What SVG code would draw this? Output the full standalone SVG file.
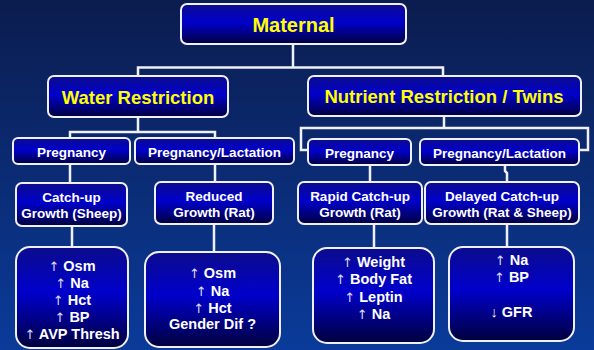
<svg xmlns="http://www.w3.org/2000/svg" width="594" height="350" viewBox="0 0 594 350">
<defs>
<linearGradient id="bg" x1="0" y1="0" x2="0" y2="1">
<stop offset="0" stop-color="#0b1c4e"/>
<stop offset="1" stop-color="#0a3b9a"/>
</linearGradient>
<linearGradient id="bx" x1="0" y1="0" x2="0" y2="1">
<stop offset="0" stop-color="#0c0c8c"/>
<stop offset="0.45" stop-color="#0000cc"/>
<stop offset="1" stop-color="#00003e"/>
</linearGradient>
<style>
.b{fill:url(#bx);stroke:#f0f0f8;stroke-width:2}
.c{fill:none;stroke:#f0f0f8;stroke-width:2.5}
text{font-family:"Liberation Sans",Arial,sans-serif;font-weight:bold;text-anchor:middle;fill:#ffffff}
.y{fill:#ffff00}
.t1{font-size:20px}
.t2{font-size:18.5px}
.t3{font-size:13.5px}
.t4{font-size:14.5px}
.a{font-family:"DejaVu Sans",sans-serif;font-weight:normal;fill:#dcdcff;font-size:13px}
</style>
</defs>
<rect width="594" height="350" fill="url(#bg)"/>
<g id="connectors">
<path class="c" d="M293 44V67.5M138 76V67.5H443V76"/>
<path class="c" d="M138 117V132M70 138V132H215V138"/>
<path class="c" d="M444 116V128M308 150H301V128H588V150H579"/>
<path class="c" d="M70 164V183M215 164V182M370 165V182M505 165V171L507 173V182"/>
<path class="c" d="M72 226V247M214 224V252M374 224V248M507 224V247"/>
</g>
<g id="maternal"><rect class="b" x="181" y="4" width="225" height="40" rx="6"/><text class="y t1" x="293.5" y="32">Maternal</text></g>
<g id="water"><rect class="b" x="48" y="76" width="180" height="41" rx="6"/><text class="y t2" x="138" y="104">Water Restriction</text></g>
<g id="nutrient"><rect class="b" x="308" y="76" width="273" height="40" rx="6"/><text class="y t2" x="444" y="103">Nutrient Restriction / Twins</text></g>
<g id="wr-preg"><rect class="b" x="13" y="138" width="117" height="26" rx="5"/><text class="t3" x="71.5" y="157">Pregnancy</text></g>
<g id="wr-preglact"><rect class="b" x="135" y="138" width="159" height="26" rx="5"/><text class="t3" x="214.5" y="157">Pregnancy/Lactation</text></g>
<g id="nr-preg"><rect class="b" x="308" y="139" width="103" height="26" rx="5"/><text class="t3" x="359.5" y="158">Pregnancy</text></g>
<g id="nr-preglact"><rect class="b" x="420" y="139" width="159" height="26" rx="5"/><text class="t3" x="499.5" y="158">Pregnancy/Lactation</text></g>
<g id="catchup"><rect class="b" x="16" y="183" width="111" height="43" rx="6"/><text class="t3" x="71.5" y="201.5">Catch-up</text><text class="t3" x="71.5" y="217.5">Growth (Sheep)</text></g>
<g id="reduced"><rect class="b" x="155" y="182" width="118" height="42" rx="6"/><text class="t3" x="214" y="200.5">Reduced</text><text class="t3" x="214" y="216.5">Growth (Rat)</text></g>
<g id="rapid"><rect class="b" x="298" y="182" width="124" height="42" rx="6"/><text class="t3" x="360" y="200.5">Rapid Catch-up</text><text class="t3" x="360" y="216.5">Growth (Rat)</text></g>
<g id="delayed"><rect class="b" x="425" y="182" width="154" height="42" rx="6"/><text class="t3" x="502" y="200.5">Delayed Catch-up</text><text class="t3" x="502" y="216.5">Growth (Rat &amp; Sheep)</text></g>
<g id="res1"><rect class="b" x="16" y="247" width="112" height="101" rx="14"/>
<text class="t4" x="72" y="270.5"><tspan class="a">↑</tspan> Osm</text>
<text class="t4" x="72" y="287.5"><tspan class="a">↑</tspan> Na</text>
<text class="t4" x="72" y="304.5"><tspan class="a">↑</tspan> Hct</text>
<text class="t4" x="72" y="321.5"><tspan class="a">↑</tspan> BP</text>
<text class="t4" x="72" y="339"><tspan class="a">↑</tspan> AVP Thresh</text></g>
<g id="res2"><rect class="b" x="145" y="252" width="135" height="95" rx="14"/>
<text class="t4" x="212.5" y="277.5"><tspan class="a">↑</tspan> Osm</text>
<text class="t4" x="212.5" y="295.5"><tspan class="a">↑</tspan> Na</text>
<text class="t4" x="212.5" y="312.5"><tspan class="a">↑</tspan> Hct</text>
<text class="t4" x="212.5" y="329">Gender Dif ?</text></g>
<g id="res3"><rect class="b" x="313" y="248" width="121" height="95" rx="14"/>
<text class="t4" x="373.5" y="266.5"><tspan class="a">↑</tspan> Weight</text>
<text class="t4" x="373.5" y="284"><tspan class="a">↑</tspan> Body Fat</text>
<text class="t4" x="373.5" y="301.5"><tspan class="a">↑</tspan> Leptin</text>
<text class="t4" x="373.5" y="318.5"><tspan class="a">↑</tspan> Na</text></g>
<g id="res4"><rect class="b" x="449" y="247" width="125" height="94" rx="14"/>
<text class="t4" x="511.5" y="265"><tspan class="a">↑</tspan> Na</text>
<text class="t4" x="511.5" y="282"><tspan class="a">↑</tspan> BP</text>
<text class="t4" x="511.5" y="317"><tspan>↓</tspan> GFR</text></g>
</svg>
